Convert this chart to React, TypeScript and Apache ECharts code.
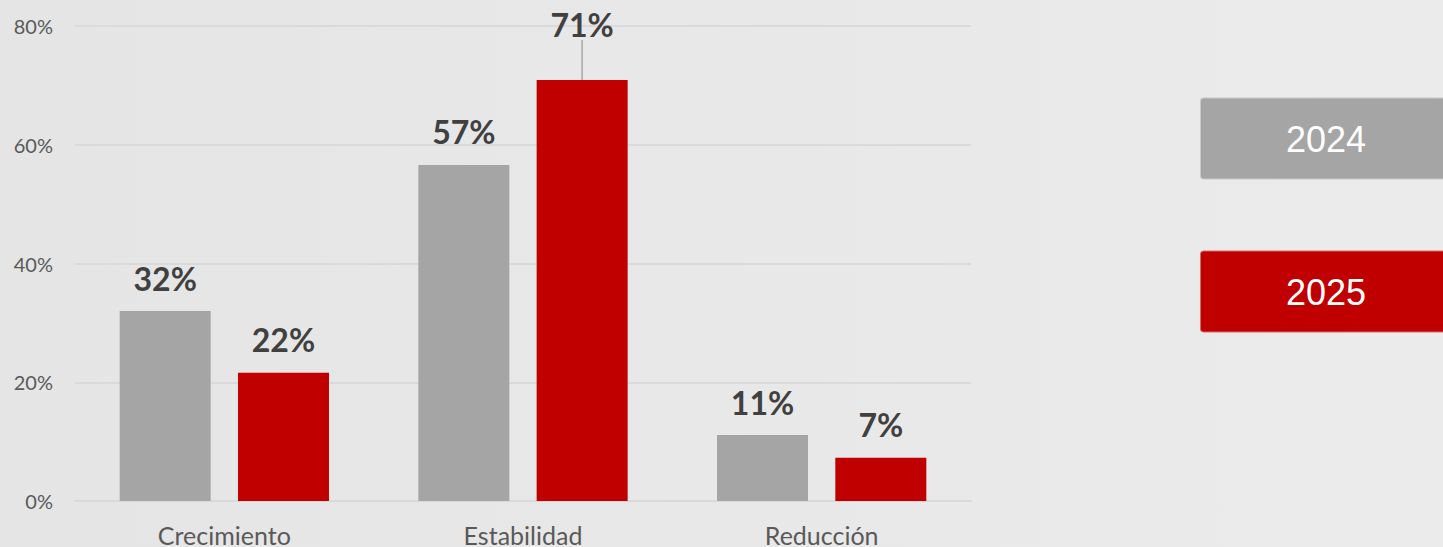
import React, { useEffect, useRef } from "react";
import * as echarts from "echarts";

const categories = ["Crecimiento", "Estabilidad", "Reducción"];
const seriesNames = ["2024", "2025"];
const values2024 = [32.0, 56.6, 11.1];
const values2025 = [21.6, 70.9, 7.3];
const yTicks = [0, 20, 40, 60, 80];
const colors = ["#a5a5a5", "#c00000"];
const leaderIndex = 1;

export default function App() {
  const ref = useRef<HTMLDivElement>(null);
  useEffect(() => {
    if (!ref.current) return;
    const chart = echarts.init(ref.current, null, { renderer: "svg" });
    const labelStyle = {
      show: true,
      position: "top",
      distance: 17,
      fontFamily: "Lato",
      fontWeight: "bold",
      fontSize: 32,
      lineHeight: 32,
      color: "#404040",
      formatter: (p: any) => Math.round(p.value) + "%",
    };
    chart.setOption({
      animation: false,
      grid: { left: 75, right: 472, top: 26, bottom: 45.5 },
      xAxis: {
        type: "category",
        data: categories,
        axisTick: { show: false },
        axisLine: { show: true, lineStyle: { color: "#d9d9d9", width: 2 } },
        axisLabel: {
          color: "#595959",
          fontFamily: "Lato",
          fontSize: 25,
          margin: 21,
        },
      },
      yAxis: {
        type: "value",
        min: yTicks[0],
        max: yTicks[yTicks.length - 1],
        interval: 20,
        axisLine: { show: false },
        axisTick: { show: false },
        splitLine: { lineStyle: { color: "#dadada", width: 2 } },
        axisLabel: {
          color: "#595959",
          fontFamily: "Lato",
          fontSize: 20,
          margin: 22,
          formatter: "{value}%",
        },
      },
      series: [
        {
          name: seriesNames[0],
          type: "bar",
          data: values2024,
          barWidth: 91,
          barGap: "30%",
          itemStyle: { color: colors[0] },
          label: labelStyle,
        },
        {
          name: seriesNames[1],
          type: "bar",
          data: values2025.map((v, i) =>
            i === leaderIndex
              ? { value: v, labelLine: { show: true, lineStyle: { color: "#a6a6a6", width: 1.5 } } }
              : { value: v, labelLine: { show: false } }
          ),
          barWidth: 91,
          barGap: "30%",
          itemStyle: { color: colors[1] },
          label: labelStyle,
          labelLine: { show: false },
          labelLayout: (p: any) => (p.dataIndex === leaderIndex ? { dy: -23 } : {}),
        },
      ],
      graphic: [
        {
          type: "rect",
          shape: { x: 1200.5, y: 98, width: 260, height: 81, r: 3 },
          style: { fill: colors[0], stroke: "#c8c8c8", lineWidth: 1 },
        },
        {
          type: "text",
          x: 1326,
          y: 139,
          style: {
            text: seriesNames[0],
            fill: "#ffffff",
            fontFamily: "Liberation Sans",
            fontSize: 36,
            align: "center",
            verticalAlign: "middle",
          },
        },
        {
          type: "rect",
          shape: { x: 1200.5, y: 251, width: 260, height: 81, r: 3 },
          style: { fill: colors[1], stroke: "#d46a6a", lineWidth: 1 },
        },
        {
          type: "text",
          x: 1326,
          y: 292,
          style: {
            text: seriesNames[1],
            fill: "#ffffff",
            fontFamily: "Liberation Sans",
            fontSize: 36,
            align: "center",
            verticalAlign: "middle",
          },
        },
      ],
    });
    return () => chart.dispose();
  }, []);
  return (
    <div
      ref={ref}
      style={{
        position: "fixed",
        left: 0,
        top: 0,
        width: 1443,
        height: 547,
        background: "linear-gradient(90deg, #e5e5e5 0%, #e8e8e8 50%, #ebebeb 100%)",
      }}
    />
  );
}
